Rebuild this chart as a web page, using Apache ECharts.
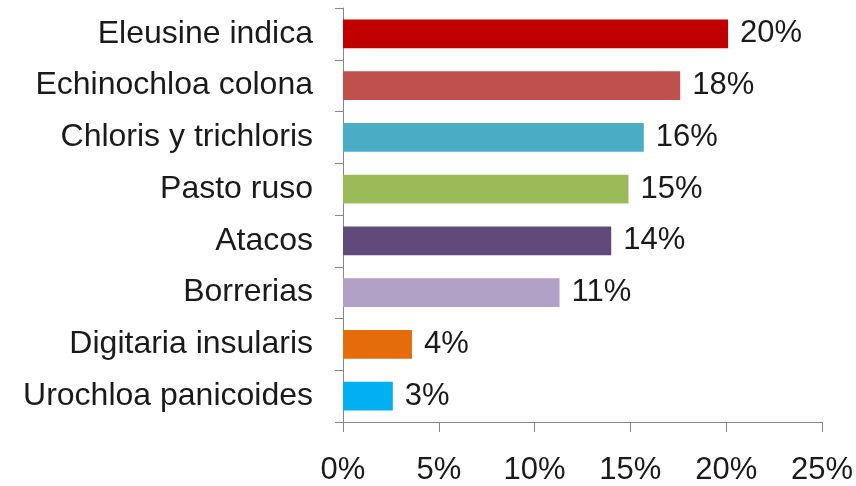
<!DOCTYPE html>
<html>
<head>
<meta charset="utf-8">
<style>
  html, body { margin: 0; padding: 0; background: #fff; }
  #chart { width: 856px; height: 486px; }
</style>
<script src="https://cdn.jsdelivr.net/npm/echarts@6/dist/echarts.min.js"></script>
</head>
<body>
<div id="chart"></div>
<script>
// Weed species and their share (%)
const species = [
  'Eleusine indica',
  'Echinochloa colona',
  'Chloris y trichloris',
  'Pasto ruso',
  'Atacos',
  'Borrerias',
  'Digitaria insularis',
  'Urochloa panicoides'
];
const shares = [20.1, 17.6, 15.7, 14.9, 14.0, 11.3, 3.6, 2.6];
const barColors = ['#C00000', '#C0504D', '#4BACC6', '#9BBB59', '#604A7B', '#B2A1C7', '#E46C0A', '#00B0F0'];
const xTicks = [0, 5, 10, 15, 20, 25];

const font = 'Liberation Sans, Arial, sans-serif';
const chart = echarts.init(document.getElementById('chart'), null, { renderer: 'canvas' });

chart.setOption({
  animation: false,
  backgroundColor: '#ffffff',
  grid: { left: 343, right: 34, top: 8, bottom: 64, containLabel: false },
  xAxis: {
    type: 'value',
    min: xTicks[0],
    max: xTicks[xTicks.length - 1],
    interval: 5,
    axisLine: { show: true, lineStyle: { color: '#868686', width: 1 } },
    axisTick: { show: true, length: 10, lineStyle: { color: '#868686' } },
    splitLine: { show: false },
    axisLabel: {
      margin: 33,
      fontFamily: font,
      fontSize: 31,
      color: '#1a1a1a',
      formatter: v => v + '%'
    }
  },
  yAxis: {
    type: 'category',
    data: species,
    inverse: true,
    axisLine: { show: true, lineStyle: { color: '#868686', width: 1 } },
    axisTick: { show: true, length: 8, inside: false, lineStyle: { color: '#868686' } },
    axisLabel: {
      margin: 30,
      fontFamily: font,
      fontSize: 32,
      color: '#1a1a1a'
    }
  },
  series: [{
    type: 'bar',
    data: shares.map((v, i) => ({ value: v, itemStyle: { color: barColors[i] } })),
    barCategoryGap: '44%',
    label: {
      show: true,
      position: 'right',
      distance: 12,
      fontFamily: font,
      fontSize: 31,
      color: '#1a1a1a',
      formatter: p => Math.round(p.value) + '%'
    }
  }]
});
</script>
</body>
</html>
